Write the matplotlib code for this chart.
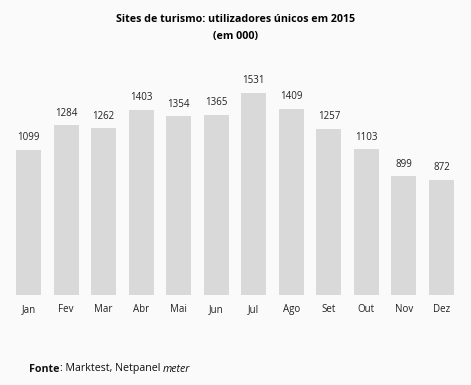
import matplotlib.pyplot as plt
import numpy as np

# dados: utilizadores unicos (em 000)
meses = ['Jan', 'Fev', 'Mar', 'Abr', 'Mai', 'Jun', 'Jul', 'Ago', 'Set', 'Out', 'Nov', 'Dez']
valores = [1099, 1284, 1262, 1403, 1354, 1365, 1531, 1409, 1257, 1103, 899, 872]

plt.rcParams['font.family'] = ['Open Sans', 'DejaVu Sans']
bg = '#fafafa'

fig = plt.figure(figsize=(4.71, 3.85), dpi=100, facecolor=bg)
ax = fig.add_axes([0.0207, 0.235, 0.9565, 0.609])
ax.set_facecolor(bg)

x = np.arange(len(meses))
bars = ax.bar(x, valores, width=0.667, color='#d9d9d9')
for xi, v in zip(x, valores):
    ax.text(xi, v + 50, str(v), ha='center', va='bottom', fontsize=7, color='#222222')

ax.set_xlim(-0.5, len(meses) - 0.5)
ax.set_ylim(0, 1781)
ax.set_xticks(x)
ax.set_xticklabels(meses, fontsize=7, color='#222222')
ax.tick_params(axis='x', length=0, pad=7)
ax.set_yticks([])
for s in ax.spines.values():
    s.set_visible(False)

fig.text(0.5, 1 - 20 / 385, 'Sites de turismo: utilizadores únicos em 2015', ha='center', va='center',
         fontsize=7.7, fontweight='bold', color='#000000')
fig.text(0.5, 1 - 36 / 385, '(em 000)', ha='center', va='center',
         fontsize=7.7, fontweight='bold', color='#000000')

t = fig.text(29 / 471, 1 - 369 / 385, 'Fonte', ha='left', va='center', fontsize=7.7,
             fontweight='bold', color='#111111')
fig.canvas.draw()
bb = t.get_window_extent()
t2 = fig.text(bb.x1 / 471, 1 - 369 / 385, ': Marktest, Netpanel ', ha='left', va='center',
              fontsize=7.7, color='#111111')
bb2 = t2.get_window_extent()
fig.text(bb2.x1 / 471, 1 - 369 / 385, 'meter', ha='left', va='center', fontsize=7.7,
         style='italic', color='#111111')

fig.savefig('out.png', dpi=100, facecolor=bg)
